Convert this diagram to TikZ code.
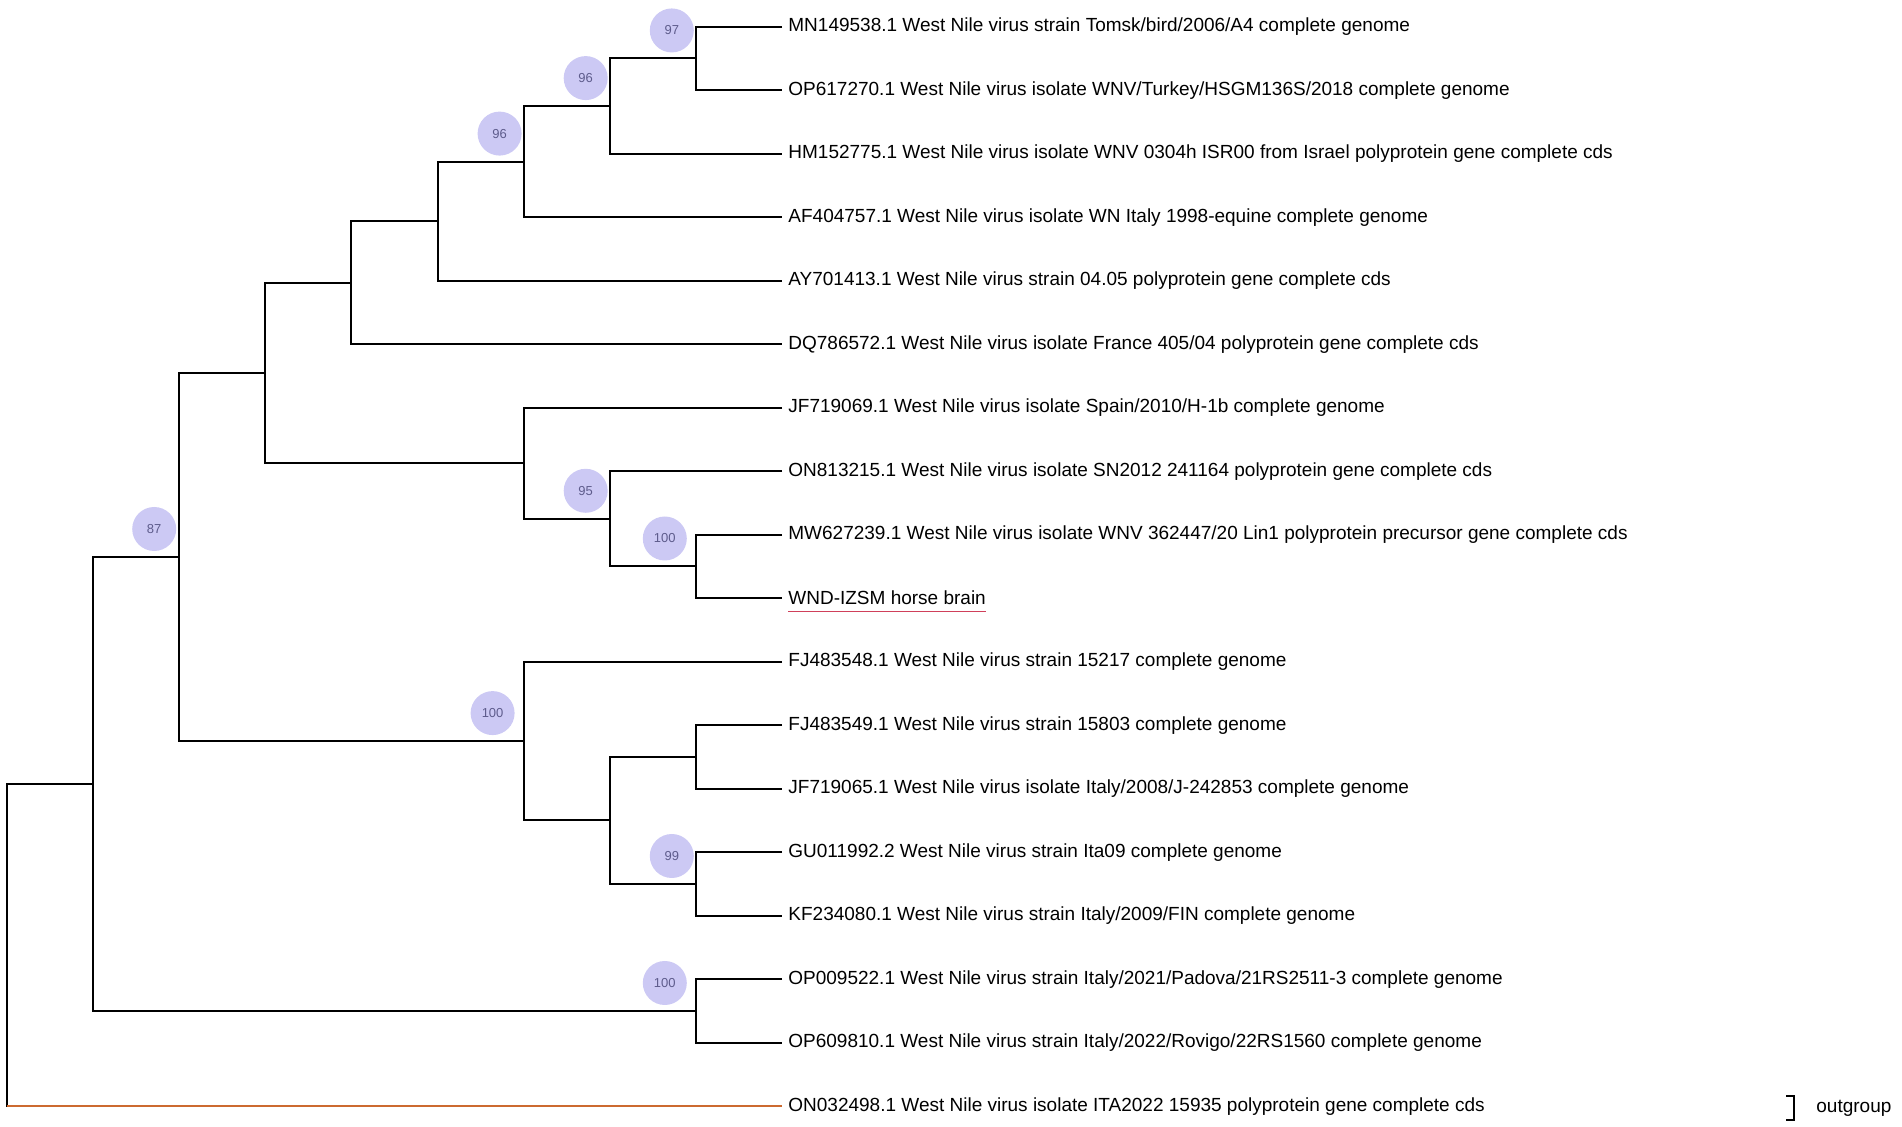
\documentclass[tikz,border=0pt]{standalone}
\usepackage{fontspec}
\setmainfont{Liberation Sans}

\definecolor{bootfill}{HTML}{CCC9F4}
\definecolor{boottext}{HTML}{5E5C8C}
\definecolor{ogline}{HTML}{CC6A30}
\definecolor{markline}{HTML}{D0405A}

\tikzset{
	taxon/.style={anchor=west,inner sep=3pt,font=\fontsize{9.5}{11}\selectfont},
	boot/.style={circle,fill=bootfill,text=boottext,minimum size=22pt,inner sep=0pt,font=\fontsize{6.5}{7}\selectfont},
	branch/.style={line width=1pt},
}

\begin{document}
\begin{tikzpicture}[x=0.5pt,y=-0.5pt]
	\useasboundingbox (0,0) rectangle (1902,1127);
	% taxa
	\node (mn) at (782,26.7) [taxon] {MN149538.1 West Nile virus strain Tomsk/bird/2006/A4 complete genome};
	\node (opa) at (782,90.2) [taxon] {OP617270.1 West Nile virus isolate WNV/Turkey/HSGM136S/2018 complete genome};
	\node (hm) at (782,153.7) [taxon] {HM152775.1 West Nile virus isolate WNV 0304h ISR00 from Israel polyprotein gene complete cds};
	\node (af) at (782,217.2) [taxon] {AF404757.1 West Nile virus isolate WN Italy 1998-equine complete genome};
	\node (ay) at (782,280.7) [taxon] {AY701413.1 West Nile virus strain 04.05 polyprotein gene complete cds};
	\node (dq) at (782,344.2) [taxon] {DQ786572.1 West Nile virus isolate France 405/04 polyprotein gene complete cds};
	\node (jfa) at (782,407.7) [taxon] {JF719069.1 West Nile virus isolate Spain/2010/H-1b complete genome};
	\node (onb) at (782,471.2) [taxon] {ON813215.1 West Nile virus isolate SN2012 241164 polyprotein gene complete cds};
	\node (mw) at (782,534.7) [taxon] {MW627239.1 West Nile virus isolate WNV 362447/20 Lin1 polyprotein precursor gene complete cds};
	\node (wnd) at (782,598.2) [taxon] {WND-IZSM horse brain};
	\node (fja) at (782,661.7) [taxon] {FJ483548.1 West Nile virus strain 15217 complete genome};
	\node (fjb) at (782,725.2) [taxon] {FJ483549.1 West Nile virus strain 15803 complete genome};
	\node (jfb) at (782,788.7) [taxon] {JF719065.1 West Nile virus isolate Italy/2008/J-242853 complete genome};
	\node (gu) at (782,852.2) [taxon] {GU011992.2 West Nile virus strain Ita09 complete genome};
	\node (kf) at (782,915.7) [taxon] {KF234080.1 West Nile virus strain Italy/2009/FIN complete genome};
	\node (opb) at (782,979.2) [taxon] {OP009522.1 West Nile virus strain Italy/2021/Padova/21RS2511-3 complete genome};
	\node (opc) at (782,1042.7) [taxon] {OP609810.1 West Nile virus strain Italy/2022/Rovigo/22RS1560 complete genome};
	\node (og) at (782,1106.2) [taxon] {ON032498.1 West Nile virus isolate ITA2022 15935 polyprotein gene complete cds};

	% internal nodes
	\coordinate (h) at (695.8,58.45);
	\coordinate (g) at (609.7,106.1);
	\coordinate (f) at (523.6,161.6);
	\coordinate (e) at (437.5,221.2);
	\coordinate (d) at (351.4,282.7);
	\coordinate (k) at (695.8,566.5);
	\coordinate (j) at (609.7,518.8);
	\coordinate (i) at (523.6,463.3);
	\coordinate (c) at (265.3,373);
	\coordinate (n) at (695.8,757);
	\coordinate (o) at (695.8,884);
	\coordinate (m) at (609.7,820.5);
	\coordinate (l) at (523.6,741.1);
	\coordinate (b) at (179.2,557);
	\coordinate (p) at (695.8,1011);
	\coordinate (a) at (93.1,784);
	\coordinate (root) at (7,945.1);

	% bootstrap values
	\node (bh) at ([shift={(-24,-28)}]h) [boot] {97};
	\node (bg) at ([shift={(-24,-28)}]g) [boot] {96};
	\node (bf) at ([shift={(-24,-28)}]f) [boot] {96};
	\node (bj) at ([shift={(-24,-28)}]j) [boot] {95};
	\node (bk) at ([shift={(-31,-28)}]k) [boot] {100};
	\node (bb) at ([shift={(-25,-28)}]b) [boot] {87};
	\node (bl) at ([shift={(-31,-28)}]l) [boot] {100};
	\node (bo) at ([shift={(-24,-28)}]o) [boot] {99};
	\node (bp) at ([shift={(-31,-28)}]p) [boot] {100};

	% branches
	\draw[branch] (mn.west) -| (h) |- (opa.west);
	\draw[branch] (h) -| (g) |- (hm.west);
	\draw[branch] (g) -| (f) |- (af.west);
	\draw[branch] (f) -| (e) |- (ay.west);
	\draw[branch] (e) -| (d) |- (dq.west);
	\draw[branch] (mw.west) -| (k) |- (wnd.west);
	\draw[branch] (onb.west) -| (j) |- (k);
	\draw[branch] (jfa.west) -| (i) |- (j);
	\draw[branch] (d) -| (c) |- (i);
	\draw[branch] (fjb.west) -| (n) |- (jfb.west);
	\draw[branch] (gu.west) -| (o) |- (kf.west);
	\draw[branch] (n) -| (m) |- (o);
	\draw[branch] (fja.west) -| (l) |- (m);
	\draw[branch] (c) -| (b) |- (l);
	\draw[branch] (opb.west) -| (p) |- (opc.west);
	\draw[branch] (b) -| (a) |- (p);
	\draw[branch] (a) -| (root) |- (og.west);
	\draw[ogline,line width=0.9pt] (root |- og.west) -- (og.west);

	% query sample
	\draw[markline,line width=0.6pt] ([xshift=3pt]wnd.south west) -- ([xshift=-3pt]wnd.south east);

	% outgroup mark
	\node (ogmark) at (1816,1108) [anchor=west,inner sep=0pt,font=\fontsize{9.5}{11}\selectfont] {outgroup};
	\coordinate (brtop) at (1794,1096);
	\coordinate (brbot) at (1794,1120);
	\draw[line width=0.8pt] ([xshift=-4pt]brtop) -- (brtop) -- (brbot) -- ([xshift=-4pt]brbot);
\end{tikzpicture}
\end{document}
